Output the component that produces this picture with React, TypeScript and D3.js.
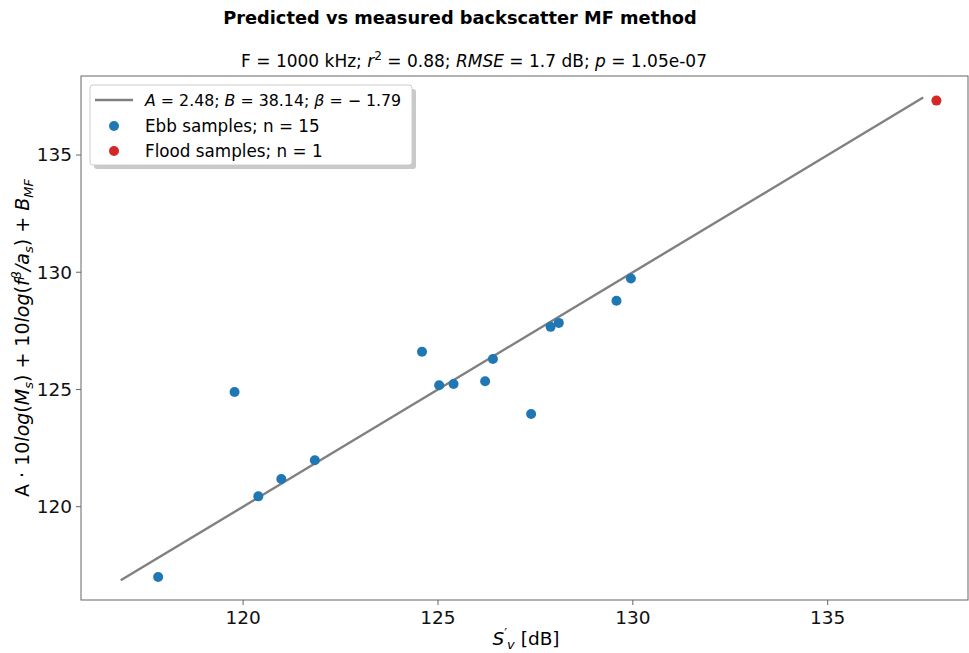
import React from 'react';
import * as d3 from 'd3';

const ebbMeasured = [117.82, 119.78, 120.39, 120.98, 121.84, 124.59, 125.03, 125.40, 126.21, 126.41, 127.39, 127.89, 128.10, 129.58, 129.95];
const ebbPredicted = [117.00, 124.89, 120.44, 121.18, 121.98, 126.61, 125.18, 125.23, 125.35, 126.30, 123.95, 127.67, 127.84, 128.78, 129.73];
const floodMeasured = [137.79];
const floodPredicted = [137.32];
const fitLine = [116.86, 137.45];
const xTicks = [120, 125, 130, 135];
const yTicks = [120, 125, 130, 135];

const W = 969;
const H = 653;
const font = "'DejaVu Sans', sans-serif";

const App = () => {
    const left = 81, right = 968, top = 76, bottom = 600;

    const x = d3.scaleLinear().domain([115.84, 138.6]).range([left, right]);
    const y = d3.scaleLinear().domain([116.02, 138.37]).range([bottom, top]);

    const line = d3.line<number>()
        .x(d => x(d))
        .y(d => y(d));

    const ebb = ebbMeasured.map((m, i) => ({ m, p: ebbPredicted[i] }));
    const flood = floodMeasured.map((m, i) => ({ m, p: floodPredicted[i] }));

    return (
        <svg width={W} height={H} style={{ position: 'absolute', left: 0, top: 0 }} fontFamily={font}>
            <rect width={W} height={H} fill="#fff" />

            {/* titles */}
            <text x={460} y={24} textAnchor="middle" fontSize={17.8} fontWeight="bold">
                Predicted vs measured backscatter MF method
            </text>
            <text x={474} y={67} textAnchor="middle" fontSize={17}>
                F = 1000 kHz; <tspan fontStyle="italic">r</tspan>
                <tspan dy={-7} fontSize={12}>2</tspan>
                <tspan dy={7}> = 0.88; </tspan>
                <tspan fontStyle="italic">RMSE</tspan> = 1.7 dB; <tspan fontStyle="italic">p</tspan> = 1.05e-07
            </text>

            {/* fit line */}
            <path d={line(fitLine) ?? ''} fill="none" stroke="#808080" strokeWidth={2.4} />

            {/* points */}
            {ebb.map((d, i) => (
                <circle key={'e' + i} cx={x(d.m)} cy={y(d.p)} r={5} fill="#1f77b4" />
            ))}
            {flood.map((d, i) => (
                <circle key={'f' + i} cx={x(d.m)} cy={y(d.p)} r={5} fill="#d62728" />
            ))}

            {/* frame */}
            <rect x={left} y={top} width={right - left} height={bottom - top} fill="none" stroke="#666" strokeWidth={1} />

            {/* x axis */}
            {xTicks.map(t => (
                <g key={'x' + t} transform={`translate(${x(t)},${bottom})`}>
                    <line y2={5} stroke="#666" />
                    <text y={24} textAnchor="middle" fontSize={18.5} fill="#111">{t}</text>
                </g>
            ))}
            <text x={526} y={645} textAnchor="middle" fontSize={18.5}>
                <tspan fontStyle="italic">S</tspan>
                <tspan dy={-8} fontSize={13}>′</tspan>
                <tspan dy={12} fontSize={13} fontStyle="italic">v</tspan>
                <tspan dy={-4}> [dB]</tspan>
            </text>

            {/* y axis */}
            {yTicks.map(t => (
                <g key={'y' + t} transform={`translate(${left},${y(t)})`}>
                    <line x2={-5} stroke="#666" />
                    <text x={-9} dy="0.35em" textAnchor="end" fontSize={18.5} fill="#111">{t}</text>
                </g>
            ))}
            <text transform={`translate(29,${(top + bottom) / 2}) rotate(-90)`} textAnchor="middle" fontSize={19}>
                A · 10<tspan fontStyle="italic">log</tspan>(<tspan fontStyle="italic">M</tspan>
                <tspan dy={4} fontSize={13} fontStyle="italic">s</tspan>
                <tspan dy={-4}>) + 10</tspan>
                <tspan fontStyle="italic">log</tspan>(<tspan fontStyle="italic">f</tspan>
                <tspan dy={-8} fontSize={13} fontStyle="italic">β</tspan>
                <tspan dy={8} fontStyle="italic">/a</tspan>
                <tspan dy={4} fontSize={13} fontStyle="italic">s</tspan>
                <tspan dy={-4}>) + </tspan>
                <tspan fontStyle="italic">B</tspan>
                <tspan dy={4} fontSize={13} fontStyle="italic">MF</tspan>
            </text>

            {/* legend */}
            <g>
                <rect x={94} y={89} width={322} height={80} rx={3} fill="#bbb" opacity={0.8} />
                <rect x={90} y={85} width={322} height={80} rx={3} fill="#fff" stroke="#ccc" />
                <line x1={95} x2={133} y1={100} y2={100} stroke="#808080" strokeWidth={2.4} />
                <text x={145} y={106} fontSize={15.8}>
                    <tspan fontStyle="italic">A</tspan> = 2.48; <tspan fontStyle="italic">B</tspan> = 38.14; <tspan fontStyle="italic">β</tspan> = − 1.79
                </text>
                <circle cx={114} cy={126} r={5} fill="#1f77b4" />
                <text x={145} y={132} fontSize={16.8}>Ebb samples; n = 15</text>
                <circle cx={114} cy={151} r={5} fill="#d62728" />
                <text x={145} y={157} fontSize={16.8}>Flood samples; n = 1</text>
            </g>
        </svg>
    );
};

export default App;
